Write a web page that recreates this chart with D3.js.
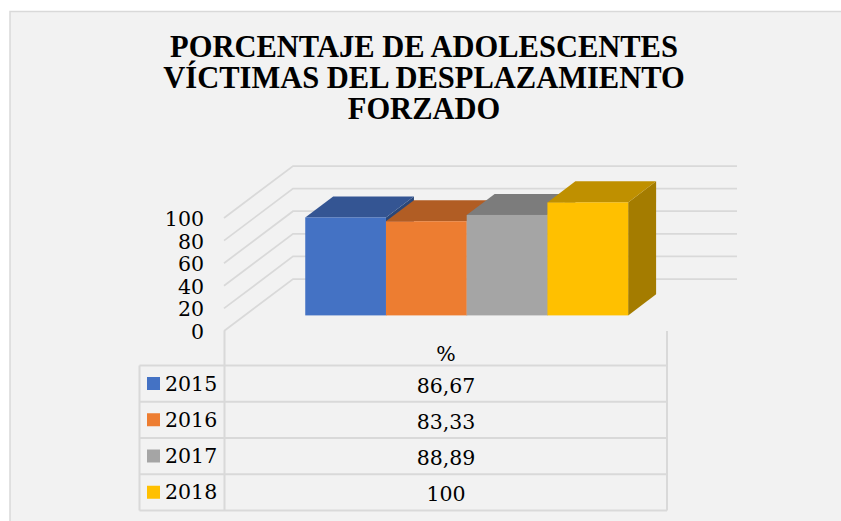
<!DOCTYPE html>
<html>
<head>
<meta charset="utf-8">
<script src="https://cdn.jsdelivr.net/npm/d3@7"></script>
<style>
    html, body { margin: 0; padding: 0; background: #fff; }
    svg { display: block; }
    text { font-family: "DejaVu Serif", serif; fill: #000; }
    .title { font-family: "Liberation Serif", serif; }
</style>
</head>
<body>
<div id="chart"></div>
<script>
const titleLines = ["PORCENTAJE DE ADOLESCENTES", "VÍCTIMAS DEL DESPLAZAMIENTO", "FORZADO"];
const years = ["2015", "2016", "2017", "2018"];
const values = [86.67, 83.33, 88.89, 100];
const valueLabels = ["86,67", "83,33", "88,89", "100"];
const ticks = [0, 20, 40, 60, 80, 100];
const columnLabel = "%";
const colors = ["#4472c4", "#ed7d31", "#a5a5a5", "#ffc000"];
const topColors = ["#345593", "#b15d24", "#7c7c7c", "#bf9000"];
const sideColors = ["#2a4779", "#924d1e", "#666666", "#a47c00"];

const width = 841, height = 521;
const labelSize = 20.5;

const svg = d3.select("#chart").append("svg")
    .attr("width", width)
    .attr("height", height);

// panel, runs off the right and bottom of the picture
svg.append("rect")
    .attr("x", 10).attr("y", 11.5)
    .attr("width", 840).attr("height", 520)
    .attr("fill", "#f2f2f2")
    .attr("stroke", "#d9d9d9")
    .attr("stroke-width", 1.5);

// title
svg.append("g").selectAll("text")
    .data(titleLines)
    .enter()
    .append("text")
    .attr("class", "title")
    .attr("x", 424)
    .attr("y", (d, i) => 57 + i * 31)
    .attr("text-anchor", "middle")
    .attr("font-size", 30.5)
    .attr("font-weight", "bold")
    .text(d => d);

// scales, on the front plane of the 3d box
const x = d3.scaleBand()
    .domain(years)
    .range([224, 668])
    .paddingInner(0)
    .paddingOuter(0.75);

const y = d3.scaleLinear()
    .domain([0, 100])
    .range([331, 218]);

// depth 0 is the front of the box, depth 1 the back wall
const depthX = 69, depthY = -52;
const px = (xv, depth) => xv + depth * depthX;
const py = (v, depth) => y(v) + depth * depthY;

// gridlines
const gridLine = d3.line();
svg.append("g").selectAll("path")
    .data(ticks)
    .enter()
    .append("path")
    .attr("fill", "none")
    .attr("stroke", "#d9d9d9")
    .attr("stroke-width", 1.75)
    .attr("d", d => gridLine([
        [px(x.range()[0], 0), py(d, 0)],
        [px(x.range()[0], 1), py(d, 1)],
        [px(x.range()[1], 1), py(d, 1)]
    ]));

// tick labels
svg.append("g").selectAll("text")
    .data(ticks)
    .enter()
    .append("text")
    .attr("x", 204)
    .attr("y", d => y(d) + 8)
    .attr("text-anchor", "end")
    .attr("font-size", labelSize)
    .text(d => d);

// bars, drawn left to right so the next one covers the side of the last
const barFront = 0.3, barBack = 0.705;
const polygon = pts => "M" + pts.map(p => p.join(",")).join("L") + "Z";

const bars = svg.append("g").selectAll("g")
    .data(years)
    .enter()
    .append("g");

bars.append("path")
    .attr("fill", (d, i) => sideColors[i])
    .attr("d", (d, i) => {
        const r = x(d) + x.bandwidth();
        return polygon([
            [px(r, barFront), py(0, barFront)],
            [px(r, barBack), py(0, barBack)],
            [px(r, barBack), py(values[i], barBack)],
            [px(r, barFront), py(values[i], barFront)]
        ]);
    });

bars.append("path")
    .attr("fill", (d, i) => topColors[i])
    .attr("d", (d, i) => {
        const l = x(d), r = l + x.bandwidth();
        return polygon([
            [px(l, barFront), py(values[i], barFront)],
            [px(l, barBack), py(values[i], barBack)],
            [px(r, barBack), py(values[i], barBack)],
            [px(r, barFront), py(values[i], barFront)]
        ]);
    });

bars.append("rect")
    .attr("fill", (d, i) => colors[i])
    .attr("x", d => px(x(d), barFront))
    .attr("y", (d, i) => py(values[i], barFront))
    .attr("width", x.bandwidth())
    .attr("height", (d, i) => y(0) - y(values[i]));

// data table
const tableLeft = 139.5, tableMid = 224.5, tableRight = 667;
const rowY = d3.scaleBand()
    .domain(years)
    .range([365.5, 510.5]);

const table = svg.append("g")
    .attr("stroke", "#d9d9d9")
    .attr("stroke-width", 2);

table.selectAll("line.row")
    .data([rowY.range()[0]].concat(years.map(d => rowY(d) + rowY.bandwidth())))
    .enter()
    .append("line")
    .attr("x1", tableLeft)
    .attr("x2", tableRight)
    .attr("y1", d => d)
    .attr("y2", d => d);

table.append("line")
    .attr("x1", tableLeft).attr("x2", tableLeft)
    .attr("y1", rowY.range()[0]).attr("y2", rowY.range()[1]);
[tableMid, tableRight].forEach(v => {
    table.append("line")
        .attr("x1", v).attr("x2", v)
        .attr("y1", y(0)).attr("y2", rowY.range()[1]);
});

svg.append("text")
    .attr("x", 446)
    .attr("y", 361)
    .attr("text-anchor", "middle")
    .attr("font-size", labelSize)
    .text(columnLabel);

// table rows
const rows = svg.append("g").selectAll("g")
    .data(years)
    .enter()
    .append("g");

rows.append("rect")
    .attr("x", 147)
    .attr("y", d => rowY(d) + 11.5)
    .attr("width", 13)
    .attr("height", 13)
    .attr("fill", (d, i) => colors[i]);

rows.append("text")
    .attr("x", 165)
    .attr("y", d => rowY(d) + 25)
    .attr("font-size", labelSize)
    .text(d => d);

rows.append("text")
    .attr("x", 446)
    .attr("y", d => rowY(d) + 27)
    .attr("text-anchor", "middle")
    .attr("font-size", labelSize)
    .text((d, i) => valueLabels[i]);
</script>
</body>
</html>
